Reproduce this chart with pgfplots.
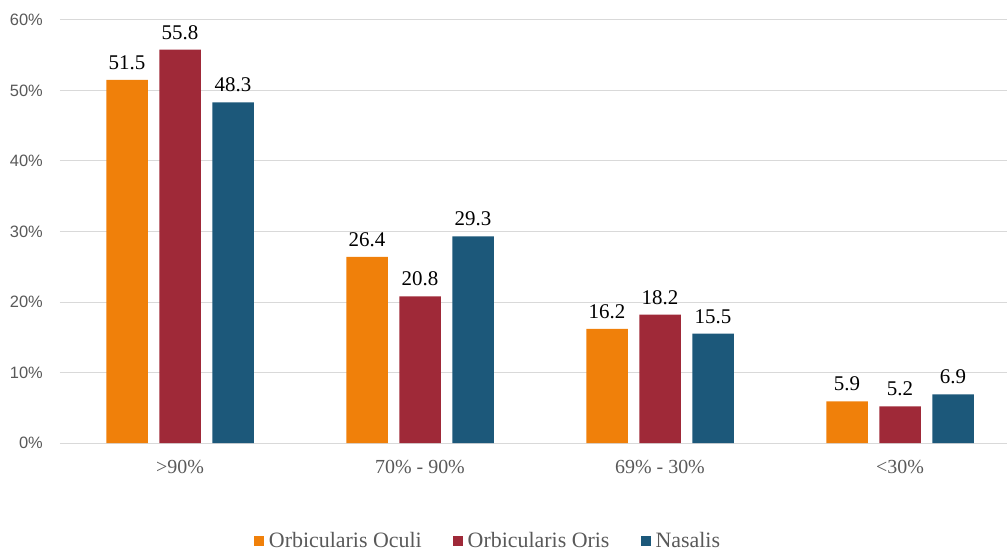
\documentclass[border=0pt]{standalone}
\usepackage{pgfplots}
\pgfplotsset{compat=1.18}
\usepackage{fontspec}
\setmainfont{Liberation Serif}
\newfontfamily\ticksans{Liberation Sans}
\newfontfamily\legserif{Liberation Serif}
\definecolor{oculi}{RGB}{240,128,10}
\definecolor{oris}{RGB}{159,41,56}
\definecolor{nasalis}{RGB}{28,88,122}
\definecolor{gridgray}{RGB}{217,217,217}
\definecolor{labelgray}{RGB}{89,89,89}

\begin{document}
\begin{tikzpicture}
\path[use as bounding box] (-60bp,-109bp) rectangle (947bp,443bp);
\begin{axis}[
    scale only axis,
    width=947bp, height=423bp,
    xmin=-0.5, xmax=3.4458,
    ymin=0, ymax=60,
    ybar=11.5bp, bar width=41.5bp,
    axis line style={draw=none},
    major tick length=0pt,
    ymajorgrids,
    grid style={line width=1bp, draw=gridgray},
    ytick={0,10,...,60},
    yticklabel={\pgfmathprintnumber{\tick}\%},
    yticklabel style={font=\ticksans\fontsize{16.5}{18}\selectfont, text=labelgray,
        anchor=east, inner sep=0pt, xshift=-17bp},
    xtick={0,1,2,3},
    xticklabels={{>90\%},{70\% - 90\%},{69\% - 30\%},{<30\%}},
    xticklabel style={font=\rmfamily\fontsize{20}{22}\selectfont, text=labelgray,
        anchor=north, inner sep=0pt, yshift=-17bp},
    /pgf/number format/assume math mode=true,
    nodes near coords={\pgfmathprintnumber[fixed,fixed zerofill,precision=1]{\pgfplotspointmeta}},
    nodes near coords style={font=\rmfamily\fontsize{21}{24}\selectfont, text=black,
        inner sep=0pt, anchor=south, yshift=10bp},
    legend columns=3,
    legend image code/.code={\fill[#1] (0bp,-5bp) rectangle (10bp,5bp);},
    legend style={at={(0.4509,-0.2317)}, anchor=center, draw=none, fill=none,
        text=labelgray,
        nodes={inner sep=0pt, font=\legserif\fontsize{22}{24}\selectfont},
        /tikz/every odd column/.style={column sep=5bp},
        /tikz/every even column/.style={column sep=31bp}},
]
\addplot[fill=oculi, draw=none] coordinates {(0,51.5) (1,26.4) (2,16.2) (3,5.9)};
\addlegendentry{\legserif Orbicularis Oculi}
\addplot[fill=oris, draw=none] coordinates {(0,55.8) (1,20.8) (2,18.2) (3,5.2)};
\addlegendentry{\legserif Orbicularis Oris}
\addplot[fill=nasalis, draw=none] coordinates {(0,48.3) (1,29.3) (2,15.5) (3,6.9)};
\addlegendentry{\legserif Nasalis}
\end{axis}
\end{tikzpicture}
\end{document}
